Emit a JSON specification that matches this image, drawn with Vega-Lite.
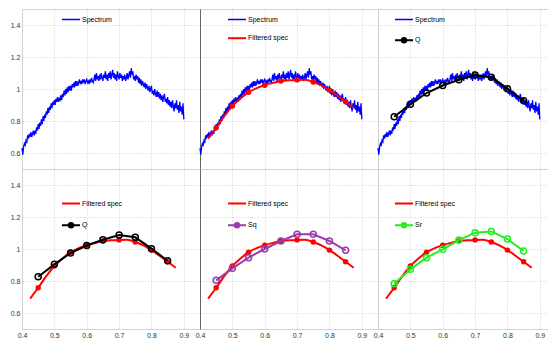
{
"$schema": "https://vega.github.io/schema/vega-lite/v6.json",
"background": "white",
"padding": {"left": 9, "top": 8, "right": 0, "bottom": 0},
"datasets": {
"spectrum": [
{"x":0.4,"y":0.63},{"x":0.4025,"y":0.59},{"x":0.405,"y":0.64},{"x":0.4075,"y":0.66},
{"x":0.41,"y":0.65},{"x":0.4125,"y":0.68},{"x":0.415,"y":0.67},{"x":0.4175,"y":0.71},
{"x":0.42,"y":0.69},{"x":0.4225,"y":0.72},{"x":0.425,"y":0.70},{"x":0.4275,"y":0.73},
{"x":0.43,"y":0.70},{"x":0.4325,"y":0.72},{"x":0.435,"y":0.74},{"x":0.4375,"y":0.71},
{"x":0.44,"y":0.74},{"x":0.4425,"y":0.72},{"x":0.445,"y":0.76},{"x":0.4475,"y":0.74},
{"x":0.45,"y":0.78},{"x":0.4525,"y":0.75},{"x":0.455,"y":0.79},{"x":0.4575,"y":0.77},
{"x":0.46,"y":0.81},{"x":0.4625,"y":0.78},{"x":0.465,"y":0.83},{"x":0.4675,"y":0.80},
{"x":0.47,"y":0.84},{"x":0.4725,"y":0.82},{"x":0.475,"y":0.86},{"x":0.4775,"y":0.84},
{"x":0.48,"y":0.88},{"x":0.4825,"y":0.85},{"x":0.485,"y":0.89},{"x":0.4875,"y":0.87},
{"x":0.49,"y":0.91},{"x":0.4925,"y":0.88},{"x":0.495,"y":0.92},{"x":0.4975,"y":0.90},
{"x":0.5,"y":0.93},{"x":0.5025,"y":0.90},{"x":0.505,"y":0.94},{"x":0.5075,"y":0.92},
{"x":0.51,"y":0.95},{"x":0.5125,"y":0.92},{"x":0.515,"y":0.94},{"x":0.5175,"y":0.93},
{"x":0.52,"y":0.96},{"x":0.5225,"y":0.93},{"x":0.525,"y":0.97},{"x":0.5275,"y":0.95},
{"x":0.53,"y":0.99},{"x":0.5325,"y":0.96},{"x":0.535,"y":1.00},{"x":0.5375,"y":0.97},
{"x":0.54,"y":1.01},{"x":0.5425,"y":0.98},{"x":0.545,"y":1.02},{"x":0.5475,"y":0.99},
{"x":0.55,"y":1.02},{"x":0.5525,"y":0.99},{"x":0.555,"y":1.03},{"x":0.5575,"y":1.01},
{"x":0.56,"y":1.04},{"x":0.5625,"y":1.01},{"x":0.565,"y":1.05},{"x":0.5675,"y":1.02},
{"x":0.57,"y":1.05},{"x":0.5725,"y":1.02},{"x":0.575,"y":1.04},{"x":0.5775,"y":1.06},
{"x":0.58,"y":1.03},{"x":0.5825,"y":1.05},{"x":0.585,"y":1.03},{"x":0.5875,"y":1.06},
{"x":0.59,"y":1.04},{"x":0.5925,"y":1.06},{"x":0.595,"y":1.03},{"x":0.5975,"y":1.05},
{"x":0.6,"y":1.06},{"x":0.6025,"y":1.04},{"x":0.605,"y":1.05},{"x":0.6075,"y":1.03},
{"x":0.61,"y":1.06},{"x":0.6125,"y":1.04},{"x":0.615,"y":1.07},{"x":0.6175,"y":1.05},
{"x":0.62,"y":1.04},{"x":0.6225,"y":1.06},{"x":0.625,"y":1.09},{"x":0.6275,"y":1.05},
{"x":0.63,"y":1.10},{"x":0.6325,"y":1.06},{"x":0.635,"y":1.08},{"x":0.6375,"y":1.05},
{"x":0.64,"y":1.09},{"x":0.6425,"y":1.06},{"x":0.645,"y":1.10},{"x":0.6475,"y":1.07},
{"x":0.65,"y":1.05},{"x":0.6525,"y":1.09},{"x":0.655,"y":1.07},{"x":0.6575,"y":1.11},
{"x":0.66,"y":1.06},{"x":0.6625,"y":1.09},{"x":0.665,"y":1.05},{"x":0.6675,"y":1.10},
{"x":0.67,"y":1.07},{"x":0.6725,"y":1.11},{"x":0.675,"y":1.06},{"x":0.6775,"y":1.09},
{"x":0.68,"y":1.12},{"x":0.6825,"y":1.07},{"x":0.685,"y":1.10},{"x":0.6875,"y":1.06},
{"x":0.69,"y":1.09},{"x":0.6925,"y":1.05},{"x":0.695,"y":1.11},{"x":0.6975,"y":1.08},
{"x":0.7,"y":1.06},{"x":0.7025,"y":1.10},{"x":0.705,"y":1.07},{"x":0.7075,"y":1.09},
{"x":0.71,"y":1.05},{"x":0.7125,"y":1.08},{"x":0.715,"y":1.06},{"x":0.7175,"y":1.09},
{"x":0.72,"y":1.05},{"x":0.7225,"y":1.07},{"x":0.725,"y":1.10},{"x":0.7275,"y":1.06},
{"x":0.73,"y":1.09},{"x":0.7325,"y":1.11},{"x":0.735,"y":1.07},{"x":0.7375,"y":1.13},
{"x":0.74,"y":1.09},{"x":0.7425,"y":1.11},{"x":0.745,"y":1.06},{"x":0.7475,"y":1.08},
{"x":0.75,"y":1.05},{"x":0.7525,"y":1.09},{"x":0.755,"y":1.06},{"x":0.7575,"y":1.08},
{"x":0.76,"y":1.04},{"x":0.7625,"y":1.07},{"x":0.765,"y":1.03},{"x":0.7675,"y":1.06},
{"x":0.77,"y":1.02},{"x":0.7725,"y":1.05},{"x":0.775,"y":1.03},{"x":0.7775,"y":1.01},
{"x":0.78,"y":1.04},{"x":0.7825,"y":1.00},{"x":0.785,"y":1.03},{"x":0.7875,"y":1.01},
{"x":0.79,"y":0.99},{"x":0.7925,"y":1.02},{"x":0.795,"y":0.98},{"x":0.7975,"y":1.00},
{"x":0.8,"y":1.02},{"x":0.8025,"y":0.97},{"x":0.805,"y":0.99},{"x":0.8075,"y":0.96},
{"x":0.81,"y":1.00},{"x":0.8125,"y":0.97},{"x":0.815,"y":0.95},{"x":0.8175,"y":0.99},
{"x":0.82,"y":0.95},{"x":0.8225,"y":0.98},{"x":0.825,"y":0.94},{"x":0.8275,"y":0.97},
{"x":0.83,"y":0.93},{"x":0.8325,"y":0.96},{"x":0.835,"y":0.92},{"x":0.8375,"y":0.95},
{"x":0.84,"y":0.97},{"x":0.8425,"y":0.92},{"x":0.845,"y":0.94},{"x":0.8475,"y":0.91},
{"x":0.85,"y":0.95},{"x":0.8525,"y":0.90},{"x":0.855,"y":0.93},{"x":0.8575,"y":0.89},
{"x":0.86,"y":0.92},{"x":0.8625,"y":0.88},{"x":0.865,"y":0.93},{"x":0.8675,"y":0.89},
{"x":0.87,"y":0.86},{"x":0.8725,"y":0.91},{"x":0.875,"y":0.88},{"x":0.8775,"y":0.93},
{"x":0.88,"y":0.87},{"x":0.8825,"y":0.90},{"x":0.885,"y":0.85},{"x":0.8875,"y":0.92},
{"x":0.89,"y":0.86},{"x":0.8925,"y":0.89},{"x":0.895,"y":0.84},{"x":0.8975,"y":0.91},
{"x":0.9,"y":0.81}
],
"filtered": [
{"x":0.425,"y":0.69},{"x":0.45,"y":0.758},{"x":0.475,"y":0.83},{"x":0.5,"y":0.894},
{"x":0.525,"y":0.94},{"x":0.55,"y":0.98},{"x":0.575,"y":1.005},{"x":0.6,"y":1.024},
{"x":0.625,"y":1.038},{"x":0.65,"y":1.05},{"x":0.675,"y":1.054},{"x":0.7,"y":1.057},
{"x":0.725,"y":1.058},{"x":0.75,"y":1.044},{"x":0.775,"y":1.022},{"x":0.8,"y":0.993},
{"x":0.825,"y":0.958},{"x":0.85,"y":0.92},{"x":0.875,"y":0.883}
],
"methods": [
{"s":"Q","x":0.45,"y":0.827},{"s":"Q","x":0.5,"y":0.904},{"s":"Q","x":0.55,"y":0.975},
{"s":"Q","x":0.6,"y":1.022},{"s":"Q","x":0.65,"y":1.058},{"s":"Q","x":0.7,"y":1.087},
{"s":"Q","x":0.75,"y":1.073},{"s":"Q","x":0.8,"y":1.002},{"s":"Q","x":0.85,"y":0.927},
{"s":"Sq","x":0.45,"y":0.804},{"s":"Sq","x":0.5,"y":0.879},{"s":"Sq","x":0.55,"y":0.946},
{"s":"Sq","x":0.6,"y":1.0},{"s":"Sq","x":0.65,"y":1.05},{"s":"Sq","x":0.7,"y":1.092},
{"s":"Sq","x":0.75,"y":1.092},{"s":"Sq","x":0.8,"y":1.05},{"s":"Sq","x":0.85,"y":0.992},
{"s":"Sr","x":0.45,"y":0.783},{"s":"Sr","x":0.5,"y":0.873},{"s":"Sr","x":0.55,"y":0.946},
{"s":"Sr","x":0.6,"y":0.998},{"s":"Sr","x":0.65,"y":1.056},{"s":"Sr","x":0.7,"y":1.102},
{"s":"Sr","x":0.75,"y":1.11},{"s":"Sr","x":0.8,"y":1.0625},{"s":"Sr","x":0.85,"y":0.9875}
]
},
"columns": 3,
"spacing": 0,
"bounds": "flush",
"resolve": {"scale": {"x": "independent", "y": "independent", "color": "independent"}, "legend": {"color": "independent"}},
"concat": [
{
"width": 178, "height": 160,
"encoding": {
"x": {"field": "x", "type": "quantitative", "title": null, "scale": {"domain": [0.4, 0.95], "nice": false, "zero": false}, "axis": {"values": [0.4,0.5,0.6,0.7,0.8,0.9], "labels": false, "domain": true, "domainColor": "#8c8c8c"}},
"y": {"field": "y", "type": "quantitative", "title": null, "scale": {"domain": [0.5, 1.5], "nice": false, "zero": false}, "axis": {"values": [0.6,0.8,1,1.2,1.4], "format": "~g", "labels": true, "domain": false}}
},
"layer": [
{"data": {"name": "spectrum"}, "mark": {"type": "line", "strokeWidth": 1.3},
"encoding": {"color": {"datum": "Spectrum", "type": "nominal", "scale": {"domain": ["Spectrum"], "range": ["#0000ff"]},
"legend": {"orient": "none", "legendX": 40, "legendY": 7, "direction": "vertical", "title": null, "padding": 0, "symbolSize": 324, "labelFontSize": 7, "labelFont": "Liberation Sans", "labelColor": "#000", "labelOffset": 3, "rowPadding": 10.7,
"encode": {"labels": {"update": {"x": {"value": 20}}}, "symbols": {"update": {"x": {"value": 9}, "size": {"value": 324}, "shape": {"signal": "datum.value === 'Spectrum' || datum.value === 'Filtered spec' ? 'M-1,0H1' : 'M-1,0H1M0.25,0A0.25,0.25,0,1,1,-0.25,0A0.25,0.25,0,1,1,0.25,0Z'"}, "stroke": {"signal": "datum.value === 'Spectrum' ? '#0000ff' : datum.value === 'Filtered spec' ? '#ff0000' : datum.value === 'Q' ? '#000000' : datum.value === 'Sq' ? '#993da8' : '#22ee22'"}, "fill": {"signal": "datum.value === 'Q' ? '#000000' : datum.value === 'Sq' ? '#993da8' : datum.value === 'Sr' ? '#22ee22' : 'transparent'"}, "strokeWidth": {"signal": "datum.value === 'Spectrum' ? 1.5 : 2"}, "opacity": {"value": 1}}}}}}}}
]
},
{
"width": 178, "height": 160,
"encoding": {
"x": {"field": "x", "type": "quantitative", "title": null, "scale": {"domain": [0.4, 0.95], "nice": false, "zero": false}, "axis": {"values": [0.4,0.5,0.6,0.7,0.8,0.9], "labels": false, "domain": true, "domainColor": "#8c8c8c"}},
"y": {"field": "y", "type": "quantitative", "title": null, "scale": {"domain": [0.5, 1.5], "nice": false, "zero": false}, "axis": {"values": [0.6,0.8,1,1.2,1.4], "labels": false, "domain": true, "domainColor": "#666666"}}
},
"layer": [
{"data": {"name": "spectrum"}, "mark": {"type": "line", "strokeWidth": 1.3},
"encoding": {"color": {"datum": "Spectrum", "type": "nominal", "scale": {"domain": ["Spectrum", "Filtered spec"], "range": ["#0000ff", "#ff0000"]},
"legend": {"orient": "none", "legendX": 28, "legendY": 7, "direction": "vertical", "title": null, "padding": 0, "symbolSize": 324, "labelFontSize": 7, "labelFont": "Liberation Sans", "labelColor": "#000", "labelOffset": 3, "rowPadding": 10.7,
"encode": {"labels": {"update": {"x": {"value": 20}}}, "symbols": {"update": {"x": {"value": 9}, "size": {"value": 324}, "shape": {"signal": "datum.value === 'Spectrum' || datum.value === 'Filtered spec' ? 'M-1,0H1' : 'M-1,0H1M0.25,0A0.25,0.25,0,1,1,-0.25,0A0.25,0.25,0,1,1,0.25,0Z'"}, "stroke": {"signal": "datum.value === 'Spectrum' ? '#0000ff' : datum.value === 'Filtered spec' ? '#ff0000' : datum.value === 'Q' ? '#000000' : datum.value === 'Sq' ? '#993da8' : '#22ee22'"}, "fill": {"signal": "datum.value === 'Q' ? '#000000' : datum.value === 'Sq' ? '#993da8' : datum.value === 'Sr' ? '#22ee22' : 'transparent'"}, "strokeWidth": {"signal": "datum.value === 'Spectrum' ? 1.5 : 2"}, "opacity": {"value": 1}}}}}}}},
{"data": {"name": "filtered"}, "mark": {"type": "line", "strokeWidth": 2, "interpolate": "monotone"},
"encoding": {"color": {"datum": "Filtered spec", "type": "nominal"}}},
{"data": {"name": "filtered"}, "transform": [{"filter": "abs(datum.x*20 - round(datum.x*20)) < 0.001 && datum.x > 0.44 && datum.x < 0.86"}], "mark": {"type": "point", "filled": true, "size": 30, "opacity": 1},
"encoding": {"color": {"datum": "Filtered spec", "type": "nominal"}}}
]
},
{
"width": 170, "height": 160,
"encoding": {
"x": {"field": "x", "type": "quantitative", "title": null, "scale": {"domain": [0.4, 0.9253], "nice": false, "zero": false}, "axis": {"values": [0.4,0.5,0.6,0.7,0.8,0.9], "labels": false, "domain": true, "domainColor": "#8c8c8c"}},
"y": {"field": "y", "type": "quantitative", "title": null, "scale": {"domain": [0.5, 1.5], "nice": false, "zero": false}, "axis": {"values": [0.6,0.8,1,1.2,1.4], "labels": false, "domain": false}}
},
"layer": [
{"data": {"name": "spectrum"}, "mark": {"type": "line", "strokeWidth": 1.3},
"encoding": {"color": {"datum": "Spectrum", "type": "nominal", "scale": {"domain": ["Spectrum", "Q"], "range": ["#0000ff", "#000000"]},
"legend": {"orient": "none", "legendX": 17, "legendY": 7, "direction": "vertical", "title": null, "padding": 0, "symbolSize": 324, "labelFontSize": 7, "labelFont": "Liberation Sans", "labelColor": "#000", "labelOffset": 3, "rowPadding": 10.7,
"encode": {"labels": {"update": {"x": {"value": 20}}}, "symbols": {"update": {"x": {"value": 9}, "size": {"value": 324}, "shape": {"signal": "datum.value === 'Spectrum' || datum.value === 'Filtered spec' ? 'M-1,0H1' : 'M-1,0H1M0.25,0A0.25,0.25,0,1,1,-0.25,0A0.25,0.25,0,1,1,0.25,0Z'"}, "stroke": {"signal": "datum.value === 'Spectrum' ? '#0000ff' : datum.value === 'Filtered spec' ? '#ff0000' : datum.value === 'Q' ? '#000000' : datum.value === 'Sq' ? '#993da8' : '#22ee22'"}, "fill": {"signal": "datum.value === 'Q' ? '#000000' : datum.value === 'Sq' ? '#993da8' : datum.value === 'Sr' ? '#22ee22' : 'transparent'"}, "strokeWidth": {"signal": "datum.value === 'Spectrum' ? 1.5 : 2"}, "opacity": {"value": 1}}}}}}}},
{"data": {"name": "methods"}, "transform": [{"filter": "datum.s === 'Q'"}], "mark": {"type": "line", "strokeWidth": 2},
"encoding": {"color": {"datum": "Q", "type": "nominal"}}},
{"data": {"name": "methods"}, "transform": [{"filter": "datum.s === 'Q'"}], "mark": {"type": "point", "filled": false, "size": 36, "strokeWidth": 1.5, "opacity": 1},
"encoding": {"color": {"datum": "Q", "type": "nominal"}}}
]
},
{
"width": 178, "height": 160,
"encoding": {
"x": {"field": "x", "type": "quantitative", "title": null, "scale": {"domain": [0.4, 0.95], "nice": false, "zero": false}, "axis": {"values": [0.4,0.5,0.6,0.7,0.8,0.9], "format": "~g", "labels": true, "domain": false}},
"y": {"field": "y", "type": "quantitative", "title": null, "scale": {"domain": [0.5, 1.5], "nice": false, "zero": false}, "axis": {"values": [0.6,0.8,1,1.2,1.4], "format": "~g", "labels": true, "domain": false}}
},
"layer": [
{"data": {"name": "filtered"}, "mark": {"type": "line", "strokeWidth": 2, "interpolate": "monotone"},
"encoding": {"color": {"datum": "Filtered spec", "type": "nominal", "scale": {"domain": ["Filtered spec", "Q"], "range": ["#ff0000", "#000000"]},
"legend": {"orient": "none", "legendX": 40, "legendY": 31, "direction": "vertical", "title": null, "padding": 0, "symbolSize": 324, "labelFontSize": 7, "labelFont": "Liberation Sans", "labelColor": "#000", "labelOffset": 3, "rowPadding": 10.7,
"encode": {"labels": {"update": {"x": {"value": 20}}}, "symbols": {"update": {"x": {"value": 9}, "size": {"value": 324}, "shape": {"signal": "datum.value === 'Spectrum' || datum.value === 'Filtered spec' ? 'M-1,0H1' : 'M-1,0H1M0.25,0A0.25,0.25,0,1,1,-0.25,0A0.25,0.25,0,1,1,0.25,0Z'"}, "stroke": {"signal": "datum.value === 'Spectrum' ? '#0000ff' : datum.value === 'Filtered spec' ? '#ff0000' : datum.value === 'Q' ? '#000000' : datum.value === 'Sq' ? '#993da8' : '#22ee22'"}, "fill": {"signal": "datum.value === 'Q' ? '#000000' : datum.value === 'Sq' ? '#993da8' : datum.value === 'Sr' ? '#22ee22' : 'transparent'"}, "strokeWidth": {"signal": "datum.value === 'Spectrum' ? 1.5 : 2"}, "opacity": {"value": 1}}}}}}}},
{"data": {"name": "filtered"}, "transform": [{"filter": "abs(datum.x*20 - round(datum.x*20)) < 0.001 && datum.x > 0.44 && datum.x < 0.86"}], "mark": {"type": "point", "filled": true, "size": 30, "opacity": 1},
"encoding": {"color": {"datum": "Filtered spec", "type": "nominal"}}},
{"data": {"name": "methods"}, "transform": [{"filter": "datum.s === 'Q'"}], "mark": {"type": "line", "strokeWidth": 2},
"encoding": {"color": {"datum": "Q", "type": "nominal"}}},
{"data": {"name": "methods"}, "transform": [{"filter": "datum.s === 'Q'"}], "mark": {"type": "point", "filled": false, "size": 36, "strokeWidth": 1.5, "opacity": 1},
"encoding": {"color": {"datum": "Q", "type": "nominal"}}}
]
},
{
"width": 178, "height": 160,
"encoding": {
"x": {"field": "x", "type": "quantitative", "title": null, "scale": {"domain": [0.4, 0.95], "nice": false, "zero": false}, "axis": {"values": [0.4,0.5,0.6,0.7,0.8,0.9], "format": "~g", "labels": true, "domain": false}},
"y": {"field": "y", "type": "quantitative", "title": null, "scale": {"domain": [0.5, 1.5], "nice": false, "zero": false}, "axis": {"values": [0.6,0.8,1,1.2,1.4], "labels": false, "domain": true, "domainColor": "#666666"}}
},
"layer": [
{"data": {"name": "filtered"}, "mark": {"type": "line", "strokeWidth": 2, "interpolate": "monotone"},
"encoding": {"color": {"datum": "Filtered spec", "type": "nominal", "scale": {"domain": ["Filtered spec", "Sq"], "range": ["#ff0000", "#993da8"]},
"legend": {"orient": "none", "legendX": 28, "legendY": 31, "direction": "vertical", "title": null, "padding": 0, "symbolSize": 324, "labelFontSize": 7, "labelFont": "Liberation Sans", "labelColor": "#000", "labelOffset": 3, "rowPadding": 10.7,
"encode": {"labels": {"update": {"x": {"value": 20}}}, "symbols": {"update": {"x": {"value": 9}, "size": {"value": 324}, "shape": {"signal": "datum.value === 'Spectrum' || datum.value === 'Filtered spec' ? 'M-1,0H1' : 'M-1,0H1M0.25,0A0.25,0.25,0,1,1,-0.25,0A0.25,0.25,0,1,1,0.25,0Z'"}, "stroke": {"signal": "datum.value === 'Spectrum' ? '#0000ff' : datum.value === 'Filtered spec' ? '#ff0000' : datum.value === 'Q' ? '#000000' : datum.value === 'Sq' ? '#993da8' : '#22ee22'"}, "fill": {"signal": "datum.value === 'Q' ? '#000000' : datum.value === 'Sq' ? '#993da8' : datum.value === 'Sr' ? '#22ee22' : 'transparent'"}, "strokeWidth": {"signal": "datum.value === 'Spectrum' ? 1.5 : 2"}, "opacity": {"value": 1}}}}}}}},
{"data": {"name": "filtered"}, "transform": [{"filter": "abs(datum.x*20 - round(datum.x*20)) < 0.001 && datum.x > 0.44 && datum.x < 0.86"}], "mark": {"type": "point", "filled": true, "size": 30, "opacity": 1},
"encoding": {"color": {"datum": "Filtered spec", "type": "nominal"}}},
{"data": {"name": "methods"}, "transform": [{"filter": "datum.s === 'Sq'"}], "mark": {"type": "line", "strokeWidth": 2},
"encoding": {"color": {"datum": "Sq", "type": "nominal"}}},
{"data": {"name": "methods"}, "transform": [{"filter": "datum.s === 'Sq'"}], "mark": {"type": "point", "filled": false, "size": 36, "strokeWidth": 1.5, "opacity": 1},
"encoding": {"color": {"datum": "Sq", "type": "nominal"}}}
]
},
{
"width": 170, "height": 160,
"encoding": {
"x": {"field": "x", "type": "quantitative", "title": null, "scale": {"domain": [0.4, 0.9253], "nice": false, "zero": false}, "axis": {"values": [0.4,0.5,0.6,0.7,0.8,0.9], "format": "~g", "labels": true, "domain": false}},
"y": {"field": "y", "type": "quantitative", "title": null, "scale": {"domain": [0.5, 1.5], "nice": false, "zero": false}, "axis": {"values": [0.6,0.8,1,1.2,1.4], "labels": false, "domain": false}}
},
"layer": [
{"data": {"name": "filtered"}, "mark": {"type": "line", "strokeWidth": 2, "interpolate": "monotone"},
"encoding": {"color": {"datum": "Filtered spec", "type": "nominal", "scale": {"domain": ["Filtered spec", "Sr"], "range": ["#ff0000", "#22ee22"]},
"legend": {"orient": "none", "legendX": 17, "legendY": 31, "direction": "vertical", "title": null, "padding": 0, "symbolSize": 324, "labelFontSize": 7, "labelFont": "Liberation Sans", "labelColor": "#000", "labelOffset": 3, "rowPadding": 10.7,
"encode": {"labels": {"update": {"x": {"value": 20}}}, "symbols": {"update": {"x": {"value": 9}, "size": {"value": 324}, "shape": {"signal": "datum.value === 'Spectrum' || datum.value === 'Filtered spec' ? 'M-1,0H1' : 'M-1,0H1M0.25,0A0.25,0.25,0,1,1,-0.25,0A0.25,0.25,0,1,1,0.25,0Z'"}, "stroke": {"signal": "datum.value === 'Spectrum' ? '#0000ff' : datum.value === 'Filtered spec' ? '#ff0000' : datum.value === 'Q' ? '#000000' : datum.value === 'Sq' ? '#993da8' : '#22ee22'"}, "fill": {"signal": "datum.value === 'Q' ? '#000000' : datum.value === 'Sq' ? '#993da8' : datum.value === 'Sr' ? '#22ee22' : 'transparent'"}, "strokeWidth": {"signal": "datum.value === 'Spectrum' ? 1.5 : 2"}, "opacity": {"value": 1}}}}}}}},
{"data": {"name": "filtered"}, "transform": [{"filter": "abs(datum.x*20 - round(datum.x*20)) < 0.001 && datum.x > 0.44 && datum.x < 0.86"}], "mark": {"type": "point", "filled": true, "size": 30, "opacity": 1},
"encoding": {"color": {"datum": "Filtered spec", "type": "nominal"}}},
{"data": {"name": "methods"}, "transform": [{"filter": "datum.s === 'Sr'"}], "mark": {"type": "line", "strokeWidth": 2},
"encoding": {"color": {"datum": "Sr", "type": "nominal"}}},
{"data": {"name": "methods"}, "transform": [{"filter": "datum.s === 'Sr'"}], "mark": {"type": "point", "filled": false, "size": 36, "strokeWidth": 1.5, "opacity": 1},
"encoding": {"color": {"datum": "Sr", "type": "nominal"}}}
]
}
],
"config": {
"view": {"stroke": "#d4d4d4"},
"axis": {"grid": true, "gridColor": "#cccccc", "gridDash": [1, 2], "ticks": false, "labelFontSize": 7, "labelFont": "Liberation Sans", "labelColor": "#333333", "labelPadding": 2, "labelFlush": false, "labelOverlap": false, "domainWidth": 1}
}
}
